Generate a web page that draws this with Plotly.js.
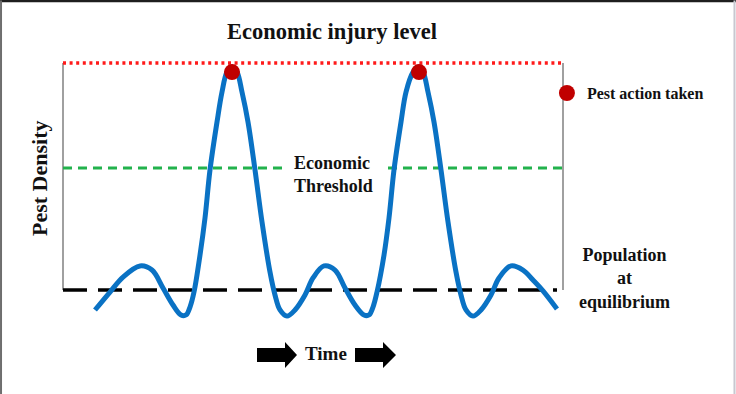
<!DOCTYPE html>
<html>
<head>
<meta charset="utf-8">
<script src="https://cdn.plot.ly/plotly-3.0.1.min.js"></script>
<style>html,body{margin:0;padding:0;background:#fff;}#chart{width:736px;height:394px;}</style>
</head>
<body>
<div id="chart"></div>
<script>
// Pest density over time (relative units: 0 = equilibrium, 10 = economic injury level)
const time = [
  6.4, 9.4, 12.0, 15.4, 17.8, 20.0, 22.0, 23.6, 24.6, 25.4, 26.2, 27.4, 28.4, 29.4, 30.8, 31.8, 32.8, 33.8,
  34.8, 35.8, 37.0, 38.4, 39.8, 41.4, 42.4, 43.4, 44.8, 46.4, 48.4, 50.0, 52.2,
  54.4, 56.4, 58.4, 60.2, 61.2, 62.0, 62.8, 64.2, 65.2, 66.2, 67.6, 68.6, 70.0, 71.0,
  72.0, 73.0, 74.2, 75.6, 77.0, 78.6, 79.6, 80.6, 82.0, 83.6, 85.6, 87.2, 89.6,
  92.0, 94.0, 96.0, 98.8
];
const density = [
  -0.88, -0.09, 0.57, 1.06, 0.88, 0.09, -0.66, -1.10, -1.10, -0.75, -0.09, 1.54, 3.17, 5.29, 7.40, 8.72, 9.60, 9.82,
  9.60, 8.72, 7.40, 5.29, 3.00, 0.79, -0.22, -0.88, -1.15, -0.88, -0.22, 0.53, 1.06,
  0.88, 0.09, -0.66, -1.10, -1.10, -0.75, -0.09, 1.54, 3.17, 5.29, 7.40, 8.72, 9.60, 9.82,
  9.60, 8.72, 7.40, 5.29, 3.00, 0.79, -0.22, -0.88, -1.15, -0.88, -0.22, 0.53, 1.06,
  0.88, 0.44, -0.04, -0.84
];
const actionTime = [33.8, 71.2];
const actionDensity = [9.6, 9.6];
const injuryLevel = 10;
const thresholdLevel = 5.37;
const equilibriumLevel = 0;
const timeSpan = [0, 100];
const labels = {
  title: "Economic injury level",
  yTitle: "Pest Density",
  xTitle: "Time",
  threshold: "Economic<br>Threshold",
  equilibrium: "Population<br>at<br>equilibrium",
  action: "Pest action taken"
};

const FONT = "Liberation Serif, Times New Roman, serif";
const INK = "#111111";

const traces = [
  { x: [timeSpan[0], timeSpan[1]], y: [injuryLevel, injuryLevel], mode: "lines",
    line: { color: "#ff1a1a", width: 3.5, dash: "3px,3.6px" }, showlegend: false, hoverinfo: "skip" },
  { x: [timeSpan[0], 44, null, 65, timeSpan[1]], y: [thresholdLevel, thresholdLevel, null, thresholdLevel, thresholdLevel], mode: "lines",
    line: { color: "#22b24c", width: 3, dash: "9px,6px" }, showlegend: false, hoverinfo: "skip" },
  { x: [timeSpan[0], 98.8], y: [equilibriumLevel, equilibriumLevel], mode: "lines",
    line: { color: "#000000", width: 3.5, dash: "24px,11px" }, showlegend: false, hoverinfo: "skip" },
  { x: time, y: density, mode: "lines", line: { color: "#0a72c4", width: 5, shape: "spline", smoothing: 1 },
    showlegend: false },
  { x: actionTime, y: actionDensity, mode: "markers", name: "<b>" + labels.action + "</b>",
    marker: { color: "#c00000", size: 16 }, cliponaxis: false, showlegend: true }
];

const layout = {
  width: 736, height: 394,
  margin: { l: 55, r: 161, t: 55, b: 19 },
  paper_bgcolor: "#ffffff", plot_bgcolor: "#ffffff",
  font: { family: FONT, color: INK },
  title: { text: "<b>" + labels.title + "</b>", font: { family: FONT, size: 22.5, color: INK },
           xref: "container", yref: "container", x: 0.451, y: 0.921, xanchor: "center", yanchor: "middle" },
  xaxis: { range: [-1.6, 102.4], visible: false, fixedrange: true },
  yaxis: { range: [-3.744, 10.352], visible: false, fixedrange: true },
  showlegend: true,
  legend: { x: 0.946, y: 0.881, xanchor: "left", yanchor: "middle", xref: "paper", yref: "paper",
            bgcolor: "rgba(0,0,0,0)", itemwidth: 30, font: { family: FONT, size: 16, color: INK } },
  shapes: [
    { type: "line", xref: "x", yref: "y", x0: timeSpan[0], x1: timeSpan[0], y0: equilibriumLevel, y1: injuryLevel,
      line: { color: "#808080", width: 1.5 }, layer: "below" },
    { type: "line", xref: "x", yref: "y", x0: timeSpan[1], x1: timeSpan[1], y0: equilibriumLevel, y1: injuryLevel,
      line: { color: "#808080", width: 1.5 }, layer: "below" },
    { type: "path", xref: "x", yref: "y", fillcolor: "#000", line: { width: 0 },
      path: "M38.8,-2.555 L44.4,-2.555 L44.4,-2.291 L46.8,-2.863 L44.4,-3.436 L44.4,-3.172 L38.8,-3.172 Z" },
    { type: "path", xref: "x", yref: "y", fillcolor: "#000", line: { width: 0 },
      path: "M58.4,-2.555 L64,-2.555 L64,-2.291 L66.6,-2.863 L64,-3.436 L64,-3.172 L58.4,-3.172 Z" },
    { type: "line", xref: "paper", yref: "paper", x0: -0.11, x1: 1.32, y0: 1.169, y1: 1.169, line: { color: "#1e1e1e", width: 2.5 } },
    { type: "line", xref: "paper", yref: "paper", x0: -0.1038, x1: -0.1038, y0: -0.1, y1: 1.17, line: { color: "#6e6e6e", width: 2 } },
    { type: "line", xref: "paper", yref: "paper", x0: 1.3067, x1: 1.3067, y0: -0.1, y1: 1.17, line: { color: "#c8c8d0", width: 2 } }
  ],
  annotations: [
    { text: "<b>" + labels.threshold + "</b>", xref: "x", yref: "y", x: 45.8, y: 5.09, xanchor: "left", yanchor: "middle",
      align: "left", showarrow: false, font: { family: FONT, size: 18, color: INK } },
    { text: "<b>" + labels.equilibrium + "</b>", xref: "paper", yref: "paper", x: 1.096, y: 0.303, xanchor: "center", yanchor: "middle",
      align: "center", showarrow: false, font: { family: FONT, size: 18, color: INK } },
    { text: "<b>" + labels.yTitle + "</b>", xref: "paper", yref: "paper", x: -0.0308, y: 0.6156, xanchor: "center", yanchor: "middle",
      textangle: -90, showarrow: false, font: { family: FONT, size: 22, color: INK } },
    { text: "<b>" + labels.xTitle + "</b>", xref: "x", yref: "y", x: 52.6, y: -2.775, xanchor: "center", yanchor: "middle",
      showarrow: false, font: { family: FONT, size: 19, color: INK } }
  ]
};

Plotly.newPlot("chart", traces, layout, { displayModeBar: false, staticPlot: true });
</script>
</body>
</html>
